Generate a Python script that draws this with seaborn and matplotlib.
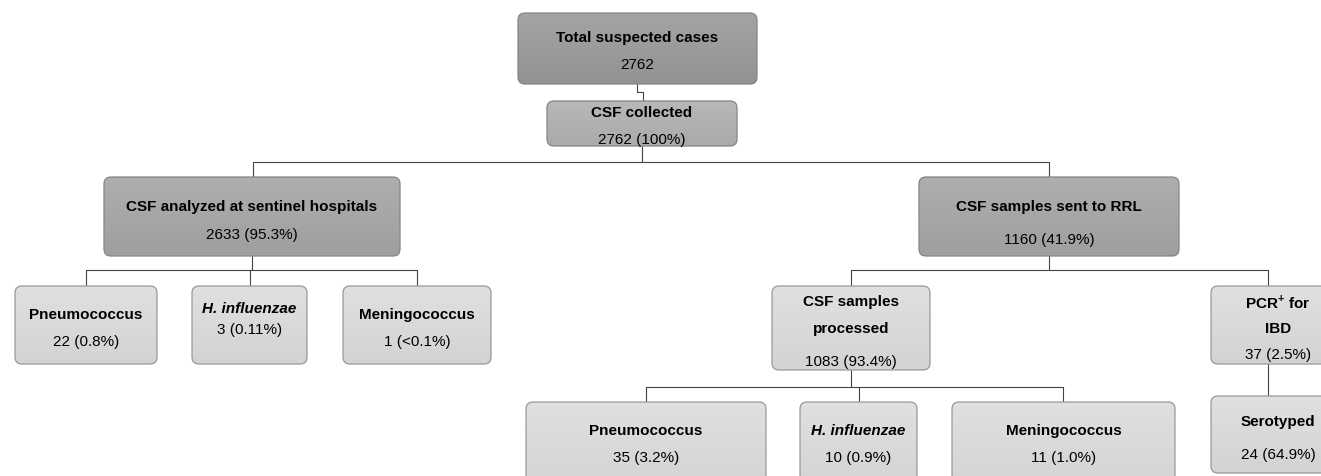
import numpy as np
import matplotlib
matplotlib.use("Agg")
import matplotlib.pyplot as plt
from matplotlib.patches import FancyBboxPatch
import seaborn as sns

# flowchart content
titles = ["Total suspected cases", "CSF collected", "CSF analyzed at sentinel hospitals",
          "CSF samples sent to RRL", "Pneumococcus", "H. influenzae", "Meningococcus",
          "CSF samples\nprocessed", "PCR$^{+}$ for\nIBD", "Pneumococcus", "H. influenzae",
          "Meningococcus", "Serotyped"]
counts = [2762, 2762, 2633, 1160, 22, 3, 1, 1083, 37, 35, 10, 11, 24]
percents = ["", "100%", "95.3%", "41.9%", "0.8%", "0.11%", "<0.1%", "93.4%", "2.5%",
            "3.2%", "0.9%", "1.0%", "64.9%"]
italic = [False, False, False, False, False, True, False, False, False, False, True, False, False]
parents = [None, 0, 1, 1, 2, 2, 2, 3, 3, 7, 7, 7, 8]

# layout in pixels: x0, y0, x1, y1, title y, value y
layout = [
    (518, 13, 757, 84, 38, 65),
    (547, 101, 737, 146, 113, 140),
    (104, 177, 400, 256, 207, 235),
    (919, 177, 1179, 256, 207, 240),
    (15, 286, 157, 364, 315, 342),
    (192, 286, 307, 364, 309, 330),
    (343, 286, 491, 364, 315, 342),
    (772, 286, 930, 370, 316, 362),
    (1211, 286, 1345, 364, 316, 355),
    (526, 402, 766, 492, 431, 458),
    (800, 402, 917, 492, 431, 458),
    (952, 402, 1175, 492, 431, 458),
    (1211, 396, 1345, 473, 422, 455),
]
# fill (top, bottom) per level
shade = {0: ("#a4a4a4", "#929292"), 1: ("#b8b8b8", "#aaaaaa"), 2: ("#aeaeae", "#9f9f9f"),
         3: ("#e0e0e0", "#d3d3d3")}
level = [0, 1, 2, 2, 3, 3, 3, 3, 3, 3, 3, 3, 3]
# x where connector leaves each parent / enters each child
drop_x = {0: 637, 1: 642, 2: 252, 3: 1049, 7: 851, 8: 1268}
enter_x = [None, 643, 253, 1049, 86, 250, 417, 851, 1268, 646, 859, 1063, 1268]
bus_y = {1: 162, 2: 270, 3: 270, 7: 387}

sns.set_theme(style="white")
plt.rcParams['font.family'] = ['Liberation Sans', 'DejaVu Sans']
plt.rcParams['mathtext.fontset'] = 'custom'
plt.rcParams['mathtext.rm'] = 'Liberation Sans:bold'
plt.rcParams['mathtext.bf'] = 'Liberation Sans:bold'

fig = plt.figure(figsize=(13.21, 4.76), dpi=100)
ax = fig.add_axes([0, 0, 1, 1])
ax.set_axis_off()

line_kw = dict(color="#444444", lw=0.8, zorder=1)

# connectors
for p in set(x for x in parents if x is not None):
    kids = [i for i, q in enumerate(parents) if q == p]
    px, pb = drop_x[p], layout[p][3]
    if p == 0:
        k = kids[0]
        mid = 92
        ax.plot([px, px, enter_x[k], enter_x[k]], [pb, mid, mid, layout[k][1]], **line_kw)
        continue
    if p == 8:
        k = kids[0]
        ax.plot([px, px], [pb, layout[k][1]], **line_kw)
        continue
    by = bus_y[p]
    ax.plot([px, px], [pb, by], **line_kw)
    xs = [enter_x[k] for k in kids]
    ax.plot([min(xs), max(xs)], [by, by], **line_kw)
    for k in kids:
        ax.plot([enter_x[k], enter_x[k]], [by, layout[k][1]], **line_kw)

# boxes
for i, (x0, y0, x1, y1, ty, vy) in enumerate(layout):
    top, bot = shade[level[i]]
    edge = "#858585" if level[i] < 3 else "#999999"
    box = FancyBboxPatch((x0, y0), x1 - x0, y1 - y0, boxstyle="round,pad=0,rounding_size=7",
                         fc="none", ec=edge, lw=0.9, zorder=3)
    ax.add_patch(box)
    c0 = np.array(matplotlib.colors.to_rgb(top))
    c1 = np.array(matplotlib.colors.to_rgb(bot))
    t = np.linspace(0, 1, 64).reshape(-1, 1, 1)
    img = c0 + (c1 - c0) * t
    im = ax.imshow(img, extent=(x0, x1, y1, y0), aspect="auto", zorder=2, interpolation="bilinear")
    im.set_clip_path(box)

    cx = (x0 + x1) / 2
    style = "italic" if italic[i] else "normal"
    lines = titles[i].split("\n")
    if len(lines) == 1:
        ax.text(cx, ty, lines[0], ha="center", va="center", fontsize=11, fontweight="bold",
                fontstyle=style, color="black", zorder=4)
    else:
        for j, ln in enumerate(lines):
            ax.text(cx, y0 + 16 + 27 * j, ln, ha="center", va="center", fontsize=11,
                    fontweight="bold", color="black", zorder=4)
    val = f"{counts[i]}" if percents[i] == "" else f"{counts[i]} ({percents[i]})"
    ax.text(cx, vy, val, ha="center", va="center", fontsize=11, color="black", zorder=4)

ax.set_xlim(0, 1321)
ax.set_ylim(476, 0)
fig.savefig("out.png", dpi=100, facecolor="white")
